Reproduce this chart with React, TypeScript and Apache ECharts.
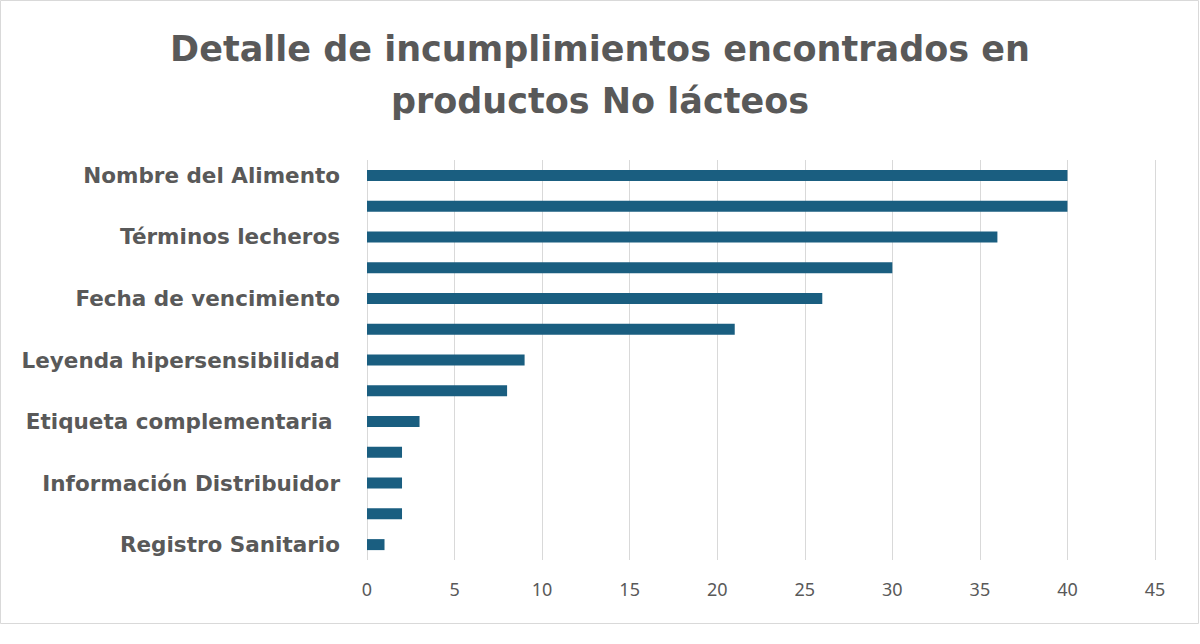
import React, { useEffect, useRef } from "react";
import * as echarts from "echarts";

const categories = [
  "Nombre del Alimento",
  "Lista de ingredientes",
  "Términos lecheros",
  "Contenido neto",
  "Fecha de vencimiento",
  "Información nutricional",
  "Leyenda hipersensibilidad",
  "Lote",
  "Etiqueta complementaria ",
  "Información Fabricante",
  "Información Distribuidor",
  "País de origen",
  "Registro Sanitario",
];
const values = [40, 40, 36, 30, 26, 21, 9, 8, 3, 2, 2, 2, 1];
const xTicks = [0, 5, 10, 15, 20, 25, 30, 35, 40, 45];

const titleText = "Detalle de incumplimientos encontrados en\nproductos No lácteos";

export default function App() {
  const ref = useRef<HTMLDivElement>(null);
  useEffect(() => {
    if (!ref.current) return;
    const chart = echarts.init(ref.current, undefined, { renderer: "svg" });
    chart.setOption({
      animation: false,
      backgroundColor: "#ffffff",
      title: {
        text: titleText,
        left: "center",
        top: 18,
        textStyle: {
          fontFamily: "DejaVu Sans",
          fontWeight: "bold",
          fontSize: 35,
          color: "#595959",
          lineHeight: 52,
        },
      },
      graphic: [
        {
          type: "rect",
          shape: { x: 0.5, y: 0.5, width: 1198, height: 623 },
          style: { fill: "none", stroke: "#d9d9d9", lineWidth: 1 },
          silent: true,
        },
      ],
      grid: { left: 367, right: 45, top: 160, bottom: 84, containLabel: false },
      xAxis: {
        type: "value",
        min: xTicks[0],
        max: xTicks[xTicks.length - 1],
        interval: 5,
        axisLine: { show: false },
        axisTick: { show: false },
        splitLine: { show: true, lineStyle: { color: "#d9d9d9", width: 1 } },
        axisLabel: {
          color: "#595959",
          fontSize: 18,
          fontFamily: "Noto Sans",
          margin: 20,
        },
      },
      yAxis: {
        type: "category",
        data: categories,
        inverse: true,
        axisLine: { show: false },
        axisTick: { show: false },
        axisLabel: {
          interval: 1,
          color: "#595959",
          fontSize: 21.5,
          fontWeight: "bold",
          fontFamily: "DejaVu Sans",
          margin: 27,
        },
      },
      series: [
        {
          type: "bar",
          data: values,
          barWidth: 11,
          itemStyle: { color: "#1a5e80" },
        },
      ],
    });
    return () => chart.dispose();
  }, []);
  return (
    <div
      ref={ref}
      style={{ position: "absolute", left: 0, top: 0, width: 1200, height: 644 }}
    />
  );
}
